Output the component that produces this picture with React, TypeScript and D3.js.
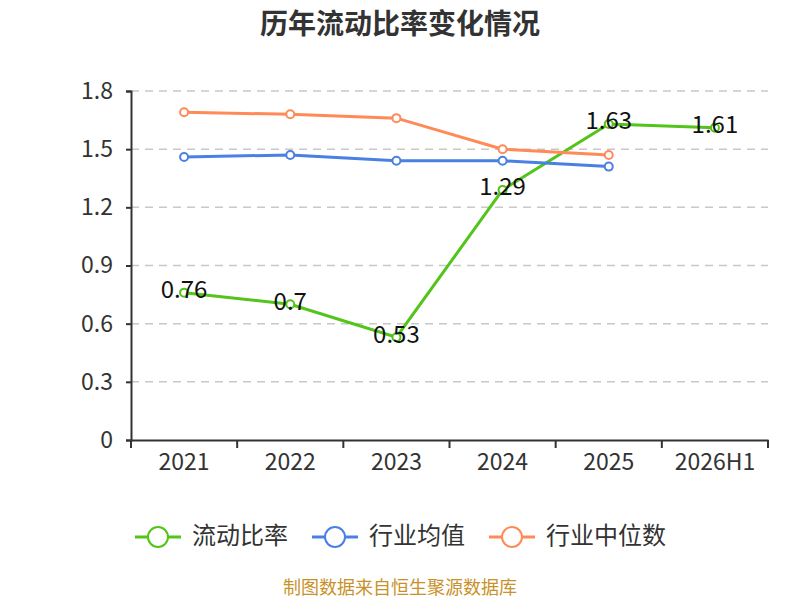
import { useRef, useEffect } from 'react';
import * as d3 from 'd3';

const categories = ['2021', '2022', '2023', '2024', '2025', '2026H1'];
const currentRatio = [0.76, 0.7, 0.53, 1.29, 1.63, 1.61];
const industryAvg = [1.46, 1.47, 1.44, 1.44, 1.41];
const industryMedian = [1.69, 1.68, 1.66, 1.5, 1.47];
const yTicks = [0, 0.3, 0.6, 0.9, 1.2, 1.5, 1.8];

const seriesList = [
  { name: '流动比率', values: currentRatio, color: '#52c41a' },
  { name: '行业均值', values: industryAvg, color: '#4a80e3' },
  { name: '行业中位数', values: industryMedian, color: '#ff8a57' },
];

const FONT = '"Noto Sans CJK SC", "Noto Sans", sans-serif';

export default function App() {
  const svgRef = useRef<SVGSVGElement>(null);

  useEffect(() => {
    if (!svgRef.current) return;
    const svg = d3.select(svgRef.current);
    svg.selectAll('*').remove();

    const width = 800;
    const height = 600;
    const margin = { top: 91, right: 32, bottom: 160, left: 131 };
    const w = width - margin.left - margin.right;
    const h = height - margin.top - margin.bottom;

    svg.append('rect').attr('width', width).attr('height', height).attr('fill', '#fff');

    // Title
    svg.append('text')
      .attr('x', 400)
      .attr('y', 34)
      .attr('text-anchor', 'middle')
      .attr('font-family', FONT)
      .attr('font-size', 28)
      .attr('font-weight', 'bold')
      .attr('fill', '#333')
      .text('历年流动比率变化情况');

    const g = svg.append('g').attr('transform', `translate(${margin.left},${margin.top})`);

    const x = d3.scaleBand().domain(categories).range([0, w]);
    const y = d3.scaleLinear().domain([0, 1.8]).range([h, 0]);
    const cx = (i: number) => x(categories[i])! + x.bandwidth() / 2;

    // Grid
    g.selectAll('.grid')
      .data(yTicks.filter((t) => t > 0))
      .join('line')
      .attr('x1', 0)
      .attr('x2', w)
      .attr('y1', (d) => y(d))
      .attr('y2', (d) => y(d))
      .attr('stroke', '#c8c8c8')
      .attr('stroke-width', 1.5)
      .attr('stroke-dasharray', '8,6');

    // Y axis
    const yAxis = g.append('g').call(
      d3.axisLeft(y).tickValues(yTicks).tickSize(5).tickPadding(13).tickFormat((d) => String(d))
    );
    yAxis.select('.domain').attr('stroke', '#333').attr('stroke-width', 2);
    yAxis.selectAll('.tick line').attr('stroke', '#333').attr('stroke-width', 2);
    yAxis.selectAll('.tick text')
      .attr('font-family', FONT)
      .attr('font-size', 23)
      .attr('fill', '#333');

    // X axis
    const xAxis = g.append('g').attr('transform', `translate(0,${h})`).call(
      d3.axisBottom(x).tickSize(0).tickPadding(14)
    );
    xAxis.select('.domain').attr('stroke', '#333').attr('stroke-width', 2);
    xAxis.selectAll('.tick text')
      .attr('font-family', FONT)
      .attr('font-size', 23)
      .attr('fill', '#333');
    const bounds = [...categories.map((c) => x(c)!), w];
    g.selectAll('.xtick')
      .data(bounds)
      .join('line')
      .attr('x1', (d) => d)
      .attr('x2', (d) => d)
      .attr('y1', h)
      .attr('y2', h + 8)
      .attr('stroke', '#333')
      .attr('stroke-width', 2);

    // Lines
    const line = d3.line<number>()
      .x((_, i) => cx(i))
      .y((d) => y(d));

    seriesList.forEach((s) => {
      g.append('path')
        .datum(s.values)
        .attr('d', line)
        .attr('fill', 'none')
        .attr('stroke', s.color)
        .attr('stroke-width', 3);
      g.selectAll(null)
        .data(s.values)
        .join('circle')
        .attr('cx', (_, i) => cx(i))
        .attr('cy', (d) => y(d))
        .attr('r', 4)
        .attr('fill', '#fff')
        .attr('stroke', s.color)
        .attr('stroke-width', 2);
    });

    // Labels
    g.selectAll('.vlabel')
      .data(currentRatio)
      .join('text')
      .attr('x', (_, i) => cx(i))
      .attr('y', (d) => y(d) - 1)
      .attr('text-anchor', 'middle')
      .attr('dominant-baseline', 'middle')
      .attr('font-family', FONT)
      .attr('font-size', 24)
      .attr('fill', '#111')
      .text((d) => String(d));

    // Legend
    const legendX = [135, 312, 489];
    seriesList.forEach((s, i) => {
      const lg = svg.append('g').attr('transform', `translate(${legendX[i]},537)`);
      lg.append('line')
        .attr('x1', 0)
        .attr('x2', 46)
        .attr('y1', 0)
        .attr('y2', 0)
        .attr('stroke', s.color)
        .attr('stroke-width', 3);
      lg.append('circle')
        .attr('cx', 23)
        .attr('cy', 0)
        .attr('r', 10)
        .attr('fill', '#fff')
        .attr('stroke', s.color)
        .attr('stroke-width', 2);
      lg.append('text')
        .attr('x', 57)
        .attr('y', 0)
        .attr('dominant-baseline', 'middle')
        .attr('font-family', FONT)
        .attr('font-size', 24)
        .attr('fill', '#333')
        .text(s.name);
    });

    // Source
    svg.append('text')
      .attr('x', 400)
      .attr('y', 589)
      .attr('text-anchor', 'middle')
      .attr('dominant-baseline', 'middle')
      .attr('font-family', FONT)
      .attr('font-size', 18)
      .attr('fill', '#c8922a')
      .text('制图数据来自恒生聚源数据库');
  }, []);

  return (
    <div style={{ position: 'absolute', left: 0, top: 0 }}>
      <svg ref={svgRef} width={800} height={600} style={{ display: 'block' }} />
    </div>
  );
}
